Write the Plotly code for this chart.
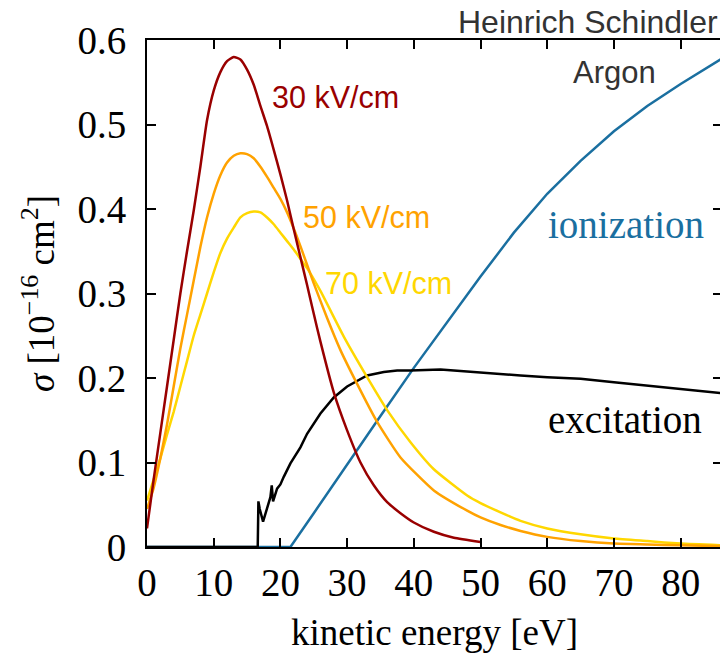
import plotly.graph_objects as go

# ---- data ----
e30 = [0, 1, 2, 3, 4, 5, 6, 7, 8, 9, 10, 11, 12, 13, 14, 15, 16, 17, 18, 19, 20, 21, 22, 23, 24, 25, 26, 28, 30, 32, 34, 36, 38, 40, 43, 46, 50]
s30 = [0.022, 0.08, 0.135, 0.19, 0.245, 0.30, 0.35, 0.398, 0.45, 0.505, 0.54, 0.562, 0.575, 0.58, 0.577, 0.565, 0.547, 0.522, 0.498, 0.47, 0.441, 0.41, 0.376, 0.343, 0.31, 0.276, 0.243, 0.183, 0.138, 0.10, 0.073, 0.053, 0.040, 0.029, 0.018, 0.011, 0.006]

e50 = [0, 1, 2, 3, 4, 5, 6, 7, 8, 9, 10, 11, 12, 13, 14, 15, 16, 17, 18, 19, 20, 21, 22, 23, 25, 27, 29, 31.5, 34.5, 38, 43, 48, 50, 53, 56, 60, 65, 70, 75, 80, 86.2]
s50 = [0.045, 0.07, 0.105, 0.145, 0.19, 0.235, 0.275, 0.315, 0.355, 0.39, 0.418, 0.44, 0.455, 0.463, 0.466, 0.465, 0.46, 0.45, 0.438, 0.425, 0.412, 0.396, 0.377, 0.356, 0.312, 0.271, 0.233, 0.193, 0.148, 0.106, 0.067, 0.043, 0.035, 0.026, 0.019, 0.012, 0.007, 0.004, 0.003, 0.002, 0.001]

e70 = [0, 1, 2, 3, 4, 5, 6, 7, 8, 9, 10, 11, 12, 13, 14, 15, 16, 17, 18, 19, 20, 21, 22, 23, 24, 26, 29.5, 33, 36, 39.5, 43, 48, 50, 53, 56, 60, 65, 70, 75, 80, 86.2]
s70 = [0.055, 0.08, 0.105, 0.133, 0.16, 0.19, 0.22, 0.25, 0.275, 0.30, 0.325, 0.348, 0.365, 0.378, 0.39, 0.395, 0.397, 0.396, 0.39, 0.382, 0.372, 0.362, 0.352, 0.341, 0.33, 0.303, 0.249, 0.201, 0.162, 0.124, 0.092, 0.061, 0.052, 0.041, 0.031, 0.022, 0.015, 0.01, 0.007, 0.004, 0.002]

e_exc = [0, 16.6, 16.7, 16.9, 17.4, 18.0, 18.5, 18.7, 18.9, 19.5, 20.0, 20.5, 21.5, 23, 24, 26, 28, 30, 31.5, 33, 35.5, 37.5, 39.5, 42, 44, 46, 49, 52, 56, 60, 65, 70, 75, 80, 86.2]
s_exc = [0, 0, 0.054, 0.045, 0.030, 0.045, 0.059, 0.073, 0.054, 0.069, 0.074, 0.083, 0.099, 0.118, 0.134, 0.158, 0.177, 0.19, 0.197, 0.203, 0.207, 0.209, 0.209, 0.21, 0.21, 0.209, 0.207, 0.205, 0.203, 0.201, 0.199, 0.195, 0.191, 0.187, 0.182]

e_ion = [0, 21.5, 25, 30, 35, 40, 45, 50, 55, 60, 65, 70, 75, 80, 86.2]
s_ion = [0, 0, 0.04, 0.098, 0.155, 0.212, 0.266, 0.32, 0.372, 0.418, 0.457, 0.492, 0.522, 0.548, 0.578]

x_ticks = [0, 10, 20, 30, 40, 50, 60, 70, 80]
y_ticks = [0, 0.1, 0.2, 0.3, 0.4, 0.5, 0.6]
y_tick_text = ["0", "0.1", "0.2", "0.3", "0.4", "0.5", "0.6"]

C30, C50, C70 = "#990000", "#FFA200", "#FFD700"
CION, CEXC = "#1A6FA0", "#000000"

fig = go.Figure()
for xs, ys, c, shp in [(e_ion, s_ion, CION, "linear"), (e_exc, s_exc, CEXC, "linear"),
                       (e70, s70, C70, "spline"), (e50, s50, C50, "spline"), (e30, s30, C30, "spline")]:
    line = dict(color=c, width=2.5, shape=shp)
    if shp == "spline":
        line["smoothing"] = 0.5
    fig.add_trace(go.Scatter(x=xs, y=ys, mode="lines", line=line, showlegend=False))

SERIF = "Liberation Serif, Times New Roman, serif"
SANS = "Liberation Sans, Arial, sans-serif"

axis_common = dict(showline=True, linecolor="black", linewidth=2, mirror="ticks", ticks="inside",
                   ticklen=9, tickwidth=2, tickcolor="black", showgrid=False, zeroline=False,
                   tickfont=dict(family=SERIF, size=39, color="black"))

fig.update_xaxes(range=[0, 86.2], tickvals=x_ticks, ticklabelstandoff=0,
                 title=dict(text="kinetic energy [eV]", font=dict(family=SERIF, size=37, color="black"), standoff=16),
                 **axis_common)
fig.update_yaxes(range=[0, 0.6], tickvals=y_ticks, ticktext=y_tick_text, ticklabelstandoff=11,
                 title=dict(text="<i>σ</i> [10<sup>−16</sup> cm<sup>2</sup>]", font=dict(family=SERIF, size=37, color="black"), standoff=12),
                 **axis_common)

ann = [
    dict(text="Heinrich Schindler", xref="paper", yref="paper", x=0.997, y=1.0355, xanchor="right", yanchor="middle",
         font=dict(family=SANS, size=32, color="#333333")),
    dict(text="Argon", x=70.06, y=0.561, xanchor="center", yanchor="middle", font=dict(family=SANS, size=31, color="#333333")),
    dict(text="30 kV/cm", x=18.5, y=0.533, xanchor="left", yanchor="middle", font=dict(family=SANS, size=30.5, color=C30)),
    dict(text="50 kV/cm", x=23.1, y=0.390, xanchor="left", yanchor="middle", font=dict(family=SANS, size=30.5, color=C50)),
    dict(text="70 kV/cm", x=26.4, y=0.312, xanchor="left", yanchor="middle", font=dict(family=SANS, size=30.5, color=C70)),
    dict(text="ionization", x=59.8, y=0.382, xanchor="left", yanchor="middle", font=dict(family=SERIF, size=39, color=CION)),
    dict(text="excitation", x=59.8, y=0.151, xanchor="left", yanchor="middle", font=dict(family=SERIF, size=39, color="black")),
]
for a in ann:
    a.setdefault("xref", "x")
    a.setdefault("yref", "y")
    a["showarrow"] = False
fig.update_layout(annotations=ann)

# page body has an 8px default margin; size the figure to fit the window
fig.update_layout(width=720, height=651, margin=dict(l=139, r=6, t=32, b=112, autoexpand=False),
                  paper_bgcolor="white", plot_bgcolor="white")
fig.write_html("out.html")
